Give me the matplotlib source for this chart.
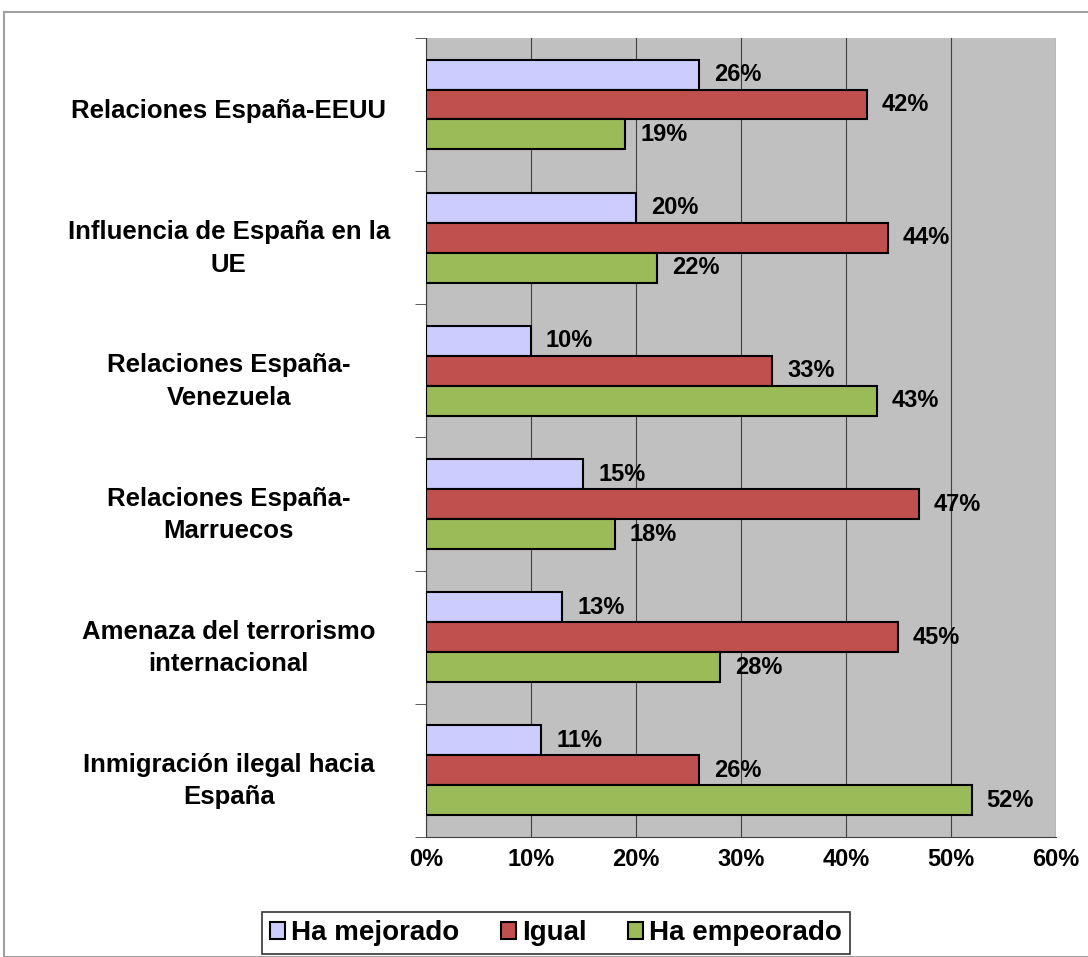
import numpy as np
import matplotlib.pyplot as plt
from matplotlib.patches import Rectangle

# Datos (de arriba hacia abajo)
categorias = [
    "Relaciones España-EEUU",
    "Influencia de España en la\nUE",
    "Relaciones España-\nVenezuela",
    "Relaciones España-\nMarruecos",
    "Amenaza del terrorismo\ninternacional",
    "Inmigración ilegal hacia\nEspaña",
]
series = ["Ha mejorado", "Igual", "Ha empeorado"]
mejorado = [26, 20, 10, 15, 13, 11]
igual = [42, 44, 33, 47, 45, 26]
empeorado = [19, 22, 43, 18, 28, 52]
colores = ["#CCCCFF", "#C0504D", "#9BBB59"]

plt.rcParams['font.family'] = ['Liberation Sans', 'DejaVu Sans']
plt.rcParams['font.weight'] = 'bold'

fig = plt.figure(figsize=(10.88, 9.57), dpi=100)
ax = fig.add_axes([0.3915, 0.1254, 0.579, 0.835])

# Marco exterior del gráfico
fig.patches.append(Rectangle((4 / 1088, 0.0), 1.2, 1 - 12 / 957,
                             transform=fig.transFigure, fill=False,
                             edgecolor="#A0A0A0", linewidth=1.5))

n = len(categorias)
y = np.arange(n)
alto = 0.225
valores = [mejorado, igual, empeorado]
for i, (vals, color, nombre) in enumerate(zip(valores, colores, series)):
    pos = y - alto + i * alto
    bars = ax.barh(pos, vals, height=alto, color=color, edgecolor="black",
                   linewidth=1.5, label=nombre, zorder=3)
    for b, v in zip(bars, vals):
        ax.text(v + 1.4, b.get_y() + b.get_height() / 2, f"{v}%",
                va="center", ha="left", fontsize=17, fontweight="bold")

ax.set_xlim(0, 60)
ax.set_ylim(n - 0.5, -0.5)
ax.set_facecolor("#C0C0C0")
ax.set_xticks(np.arange(0, 61, 10))
ax.set_xticklabels([f"{t}%" for t in range(0, 61, 10)], fontsize=17, fontweight="bold")
ax.grid(axis="x", color="#404040", linewidth=0.8, zorder=0)

ax.set_yticks(y + 0.03)
ax.set_yticklabels(categorias, fontsize=18.5, fontweight="bold", ha="center",
                   multialignment="center", linespacing=1.45)
ax.tick_params(axis="y", length=0, pad=142)
ax.set_yticks(np.arange(-0.5, n, 1), minor=True)
ax.tick_params(axis="y", which="minor", length=8, color="#404040")
ax.tick_params(axis="x", length=0, pad=8)

for s in ["top", "right"]:
    ax.spines[s].set_visible(False)
ax.spines["left"].set_color("#404040")
ax.spines["bottom"].set_color("#404040")

leg = fig.legend(loc="center", bbox_to_anchor=(0.511, 0.025), ncol=3,
                 fontsize=20, frameon=True, fancybox=False, edgecolor="black",
                 handlelength=0.55, handleheight=0.55, handletextpad=0.2,
                 columnspacing=1.5, borderpad=0.3)
leg.get_frame().set_linewidth(1.2)
for t in leg.get_texts():
    t.set_fontweight("bold")

fig.savefig("out.png", dpi=100)
